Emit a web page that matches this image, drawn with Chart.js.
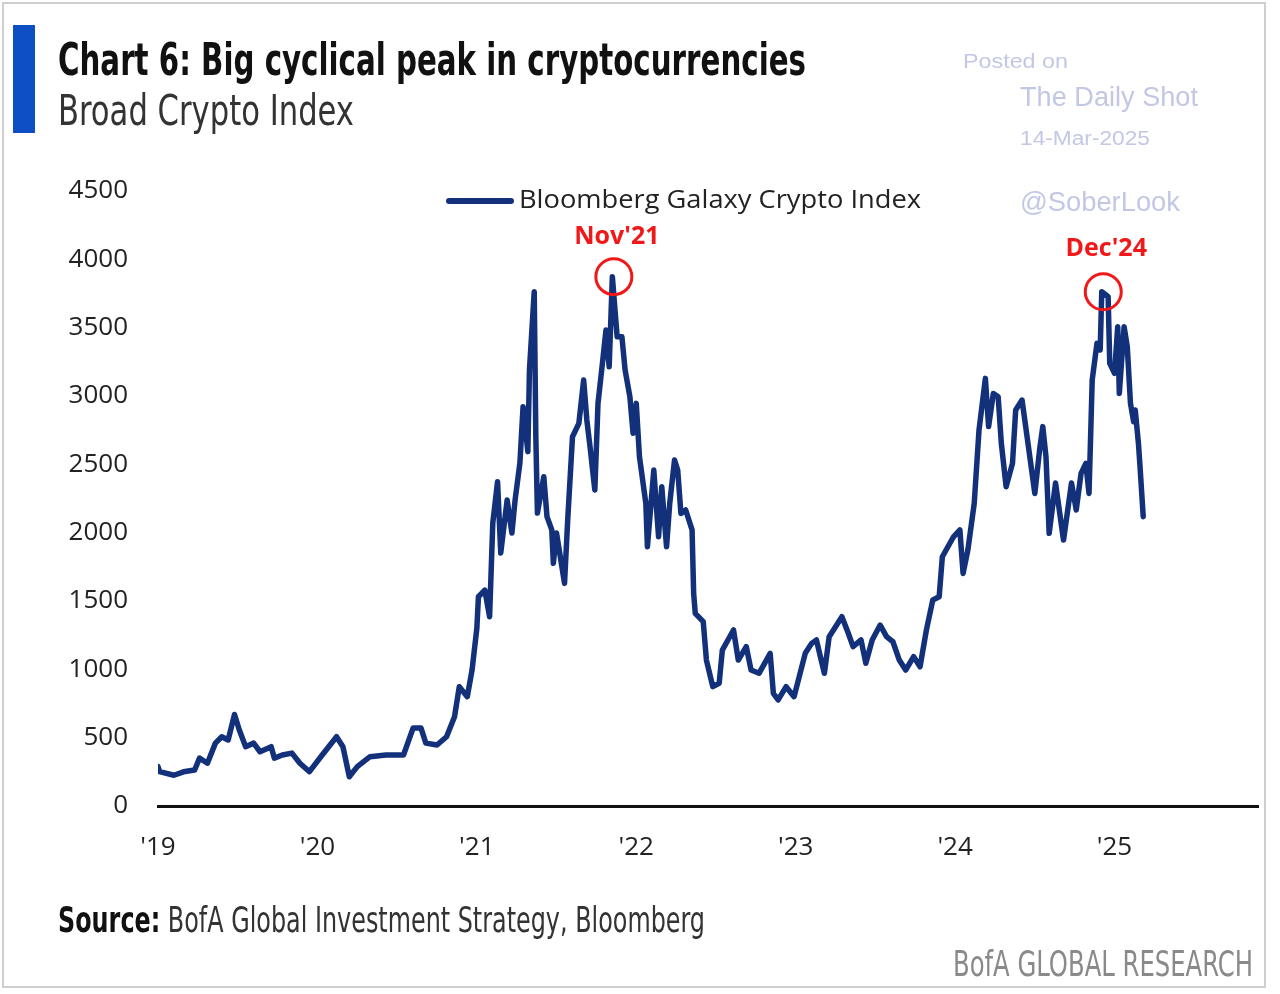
<!DOCTYPE html>
<html>
<head>
<meta charset="utf-8">
<script src="https://cdn.jsdelivr.net/npm/chart.js@4.4.1/dist/chart.umd.min.js"></script>
<style>
html,body{margin:0;padding:0;background:#fff;}
#wrap{position:relative;width:1280px;height:994px;overflow:hidden;background:#fff;}
#frame{position:absolute;left:2px;top:2px;width:1264px;height:986px;border:2px solid #cfcfcf;box-sizing:border-box;}
#bar{position:absolute;left:13px;top:25px;width:22px;height:108px;background:#0f4fc6;}
.t{position:absolute;white-space:nowrap;line-height:1;transform-origin:0 0;}
#title{left:58px;top:37px;font-family:"Liberation Sans Narrow","DejaVu Sans Condensed",sans-serif;font-weight:bold;font-size:45px;color:#111;}
#sub{left:58px;top:89px;font-family:"Liberation Sans Narrow","DejaVu Sans Condensed",sans-serif;font-size:43px;color:#333;}
#src{left:58px;top:903px;font-family:"Liberation Sans Narrow","DejaVu Sans Condensed",sans-serif;font-size:35px;color:#333;}
#src b{color:#111;}
#bofa{left:953px;top:947px;font-family:"Liberation Sans Narrow","DejaVu Sans Condensed",sans-serif;font-size:35px;color:#8a8a8a;}
.wm{font-family:"Liberation Sans",Arial,sans-serif;color:#c2c7e5;}
canvas{position:absolute;left:0;top:0;}
</style>
</head>
<body>
<div id="wrap">
<canvas id="c" width="1280" height="994"></canvas>
<div id="frame"></div>
<div id="bar"></div>
<div class="t" id="title" data-w="748">Chart 6: Big cyclical peak in cryptocurrencies</div>
<div class="t" id="sub" data-w="296">Broad Crypto Index</div>
<div class="t" id="src" data-w="647"><b>Source:</b> BofA Global Investment Strategy, Bloomberg</div>
<div class="t" id="bofa" data-w="300">BofA GLOBAL RESEARCH</div>
<div class="t wm" style="left:963px;top:51px;font-size:20px;" data-w="105">Posted on</div>
<div class="t wm" style="left:1020px;top:84px;font-size:27px;" data-w="178">The Daily Shot</div>
<div class="t wm" style="left:1020px;top:128px;font-size:20px;" data-w="130">14-Mar-2025</div>
<div class="t wm" style="left:1020px;top:189px;font-size:27px;" data-w="160">@SoberLook</div>
</div>
<script>
// ---- data ----
const dates = [
2019.00,2019.01,2019.10,2019.16,2019.23,2019.26,2019.31,2019.36,2019.40,2019.44,2019.48,2019.51,2019.55,2019.60,2019.64,2019.71,2019.73,2019.78,2019.84,2019.89,2019.95,
2020.03,2020.12,2020.16,2020.20,2020.25,2020.33,2020.43,2020.54,2020.60,2020.65,2020.68,2020.75,2020.81,2020.86,2020.89,2020.94,2020.97,
2021.00,2021.01,2021.05,2021.08,2021.10,2021.13,2021.15,2021.19,2021.22,2021.24,2021.27,2021.29,2021.32,2021.33,2021.36,2021.37,2021.38,2021.42,2021.44,2021.47,2021.48,2021.50,2021.53,2021.55,2021.57,2021.60,2021.64,2021.67,2021.69,2021.71,2021.74,2021.76,2021.79,2021.81,2021.83,2021.85,2021.88,2021.91,2021.93,2021.96,2021.98,
2022.00,2022.02,2022.06,2022.07,2022.11,2022.14,2022.16,2022.19,2022.21,2022.24,2022.26,2022.28,2022.31,2022.35,2022.36,2022.37,2022.42,2022.44,2022.48,2022.52,2022.54,2022.61,2022.64,2022.69,2022.72,2022.77,2022.84,2022.86,2022.89,2022.94,2022.99,
2023.06,2023.10,2023.13,2023.16,2023.18,2023.21,2023.29,2023.33,2023.36,2023.41,2023.44,2023.48,2023.53,2023.57,2023.61,2023.65,2023.69,2023.74,2023.78,2023.82,2023.86,2023.90,2023.92,2023.99,
2024.03,2024.05,2024.08,2024.12,2024.15,2024.19,2024.21,2024.24,2024.27,2024.29,2024.32,2024.36,2024.38,2024.42,2024.46,2024.50,2024.53,2024.55,2024.57,2024.59,2024.63,2024.68,2024.73,2024.76,2024.79,2024.82,2024.84,2024.86,2024.89,2024.91,2024.92,2024.96,2024.97,
2025.00,2025.02,2025.03,2025.06,2025.08,2025.10,2025.12,2025.13,2025.15,2025.16,2025.18
];
const values = [
288,251,225,250,263,350,313,460,507,483,670,556,434,460,397,434,350,373,387,313,251,
373,507,434,214,288,361,373,373,570,570,460,446,507,653,873,800,995,
1300,1531,1580,1385,2070,2373,1851,2239,1997,2239,2509,2922,2593,3190,3763,2702,2143,2409,2117,2020,1776,1997,1776,1629,2093,2702,2800,3117,2824,2629,2312,2946,3263,3483,3214,3873,3434,3434,3190,2995,2727,
2946,2556,2214,1897,2458,1970,2336,1897,2214,2532,2458,2141,2166,2020,1556,1410,1349,1068,873,898,1141,1288,1068,1166,995,971,1117,824,776,873,800,
1117,1190,1215,1068,971,1239,1385,1264,1166,1215,1044,1215,1324,1239,1202,1068,995,1093,1019,1288,1507,1531,1824,1970,
2020,1702,1873,2214,2751,3129,2776,3019,2995,2653,2336,2507,2897,2970,2629,2287,2605,2776,2556,1995,2363,1946,2363,2166,2434,2507,2287,3117,3385,3337,3763,3727,3239,
3166,3507,3019,3507,3361,2946,2811,2897,2653,2483,2117
];
const yearTicks = [2019,2020,2021,2022,2023,2024,2025];
const yTicks = [0,500,1000,1500,2000,2500,3000,3500,4000,4500];
const seriesName = "Bloomberg Galaxy Crypto Index";
const callouts = [{x:2021.85,label:"Nov'21"},{x:2024.92,label:"Dec'24"}];

// fit text widths
document.querySelectorAll('.t[data-w]').forEach(el=>{
  const w = el.getBoundingClientRect().width;
  el.style.transform = 'scaleX(' + (parseFloat(el.dataset.w)/w) + ')';
});

const NAVY = '#13307a';
const tickFont = {family:'"Open Sans", sans-serif', size:26};

const annoPlugin = {
  id:'anno',
  afterDatasetsDraw(chart){
    const ctx = chart.ctx, xs = chart.scales.x, ys = chart.scales.y;
    ctx.save();
    callouts.forEach((c,k)=>{
      const i = dates.indexOf(c.x);
      const px = xs.getPixelForValue(dates[i]) + 1.5;
      const py = ys.getPixelForValue(values[i]);
      ctx.strokeStyle = '#f01818'; ctx.lineWidth = 3;
      ctx.beginPath(); ctx.arc(px, py, 18, 0, Math.PI*2); ctx.stroke();
      ctx.fillStyle = '#f01818';
      ctx.font = 'bold 25px "Open Sans", sans-serif';
      ctx.textAlign = 'center'; ctx.textBaseline = 'middle';
      ctx.fillText(c.label, px + 3, py - (k===0 ? 40 : 43));
    });
    // legend
    const ds = chart.data.datasets[0];
    ctx.strokeStyle = ds.borderColor; ctx.lineWidth = 6; ctx.lineCap = 'round';
    ctx.beginPath(); ctx.moveTo(449, 201); ctx.lineTo(511, 201); ctx.stroke();
    ctx.fillStyle = '#222'; ctx.font = '26px "Open Sans", sans-serif';
    ctx.textAlign = 'left'; ctx.textBaseline = 'middle';
    const w = ctx.measureText(ds.label).width;
    ctx.translate(519, 201); ctx.scale(402/w, 1);
    ctx.fillText(ds.label, 0, 0);
    ctx.restore();
  }
};

new Chart(document.getElementById('c'), {
  type:'line',
  data:{
    datasets:[{
      label:seriesName,
      data:dates.map((d,i)=>({x:d,y:values[i]})),
      borderColor:NAVY, borderWidth:5.5, pointRadius:0, tension:0,
      borderJoinStyle:'round', borderCapStyle:'round', fill:false
    }]
  },
  options:{
    responsive:false, animation:false,
    layout:{padding:{left:0,right:22,top:191,bottom:88}},
    plugins:{legend:{display:false},tooltip:{enabled:false}},
    scales:{
      x:{
        type:'linear', min:2019, max:2025.9,
        afterBuildTicks(s){ s.ticks = yearTicks.map(v=>({value:v})); },
        afterFit(s){ s.height = 100; },
        grid:{display:false, drawTicks:false},
        border:{display:true,color:'#111',width:3},
        ticks:{callback:v=>"'"+String(v).slice(2), color:'#222', font:tickFont, padding:26, maxRotation:0, autoSkip:false}
      },
      y:{
        min:0, max:4500,
        afterBuildTicks(s){ s.ticks = yTicks.map(v=>({value:v})); },
        afterFit(s){ s.width = 158; },
        grid:{display:false, drawTicks:false},
        border:{display:false},
        ticks:{callback:v=>String(v), color:'#222', font:tickFont, padding:30}
      }
    }
  },
  plugins:[annoPlugin]
});
</script>
</body>
</html>
